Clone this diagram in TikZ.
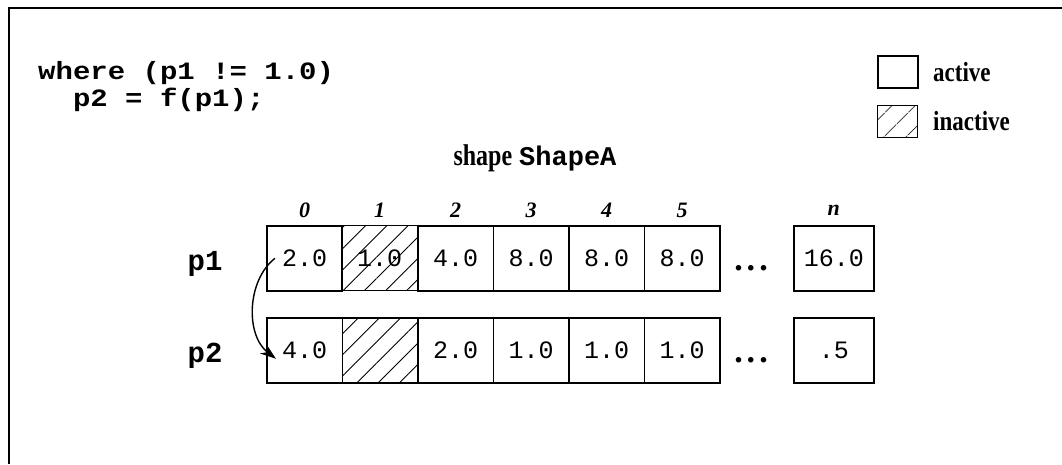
\documentclass[tikz,border=0pt]{standalone}
\usepackage{fontspec}
\setmainfont{Liberation Serif}
\setmonofont{Liberation Mono}
\usetikzlibrary{arrows.meta,patterns.meta}
\newcommand\cellfont{\ttfamily\fontsize{25}{25}\selectfont}
\newcommand\codefont{\ttfamily\bfseries\fontsize{29}{29}\selectfont}
\newcommand\idxfont{\rmfamily\bfseries\itshape\fontsize{22}{22}\selectfont}
\newcommand\lblfont{\rmfamily\bfseries\fontsize{23}{23}\selectfont}
\newcommand\bigdots{{\rmfamily\bfseries\fontsize{34}{34}\selectfont .\kern4pt.\kern4pt.}}
\newcommand\squat[1]{\scalebox{1}[0.86]{#1}}
\tikzset{
  cell/.style={draw, line width=1.6pt, minimum height=65pt, minimum width=75.5pt,
    inner sep=0pt, font=\cellfont, anchor=north west},
  hatched/.style={pattern={Lines[angle=45,distance=15pt,line width=0.9pt]}},
  legbox/.style={draw, line width=1.6pt, minimum width=40pt, minimum height=32pt,
    inner sep=0pt, anchor=north west},
  legtext/.style={font=\lblfont, anchor=west, inner sep=0pt},
  idx/.style={font=\idxfont, inner sep=0pt},
  code/.style={font=\codefont, anchor=base west, inner sep=0pt},
  rowlbl/.style={font=\codefont, anchor=base, inner sep=0pt},
  dots/.style={anchor=base, inner sep=0pt},
  arr/.style={line width=1.4pt, -{Stealth[length=16pt,width=11pt]}},
}
\begin{document}
\begin{tikzpicture}[x=1pt,y=-1pt]
\useasboundingbox (0,0) rectangle (1062,464);
% frame (cropped: only top and left edges)
\draw[line width=2.5pt] (9,464) -- (9,8) -- (1062,8);

% code
\node[code] (c1) at (38,79) {\squat{where (p1 != 1.0)}};
\node[code] (c2) at (72.8,106) {\squat{p2 = f(p1);}};

% legend
\node[legbox] (lact) at (877,55) {};
\node[legtext] (lactt) at (933,72) {\scalebox{1}[1.2]{active}};
\node[legbox, pattern={Lines[angle=45,distance=17pt,line width=1pt]}] (linact) at (877,105) {};
\node[legtext] (linactt) at (933,121) {\scalebox{1}[1.2]{inactive}};

% title
\node[anchor=base, inner sep=0pt] (title) at (535,165)
  {{\rmfamily\bfseries\fontsize{24}{24}\selectfont\scalebox{1}[1.25]{shape}}\hspace{7pt}{\ttfamily\bfseries\fontsize{27}{27}\selectfont ShapeA}};

% row labels
\node[rowlbl] (lp1) at (205,270) {p1};
\node[rowlbl] (lp2) at (205,362) {p2};

% p1 row
\node[cell] (a0) at (266,225) {2.0};
\node[cell, hatched] (a1) at (341.5,225) {1.0};
\node[cell] (a2) at (417,225) {4.0};
\node[cell] (a3) at (492.5,225) {8.0};
\node[cell] (a4) at (568,225) {8.0};
\node[cell] (a5) at (643.5,225) {8.0};
\node[cell, minimum width=80pt] (an) at (793,225) {16.0};
\node[dots] (ad) at (751,270) {\bigdots};

% p2 row
\node[cell] (b0) at (266,317) {4.0};
\node[cell, hatched] (b1) at (341.5,317) {};
\node[cell] (b2) at (417,317) {2.0};
\node[cell] (b3) at (492.5,317) {1.0};
\node[cell] (b4) at (568,317) {1.0};
\node[cell] (b5) at (643.5,317) {1.0};
\node[cell, minimum width=80pt] (bn) at (793,317) {.5};
\node[dots] (bd) at (751,362) {\bigdots};

% indices
\foreach \c/\t in {a0/0,a1/1,a2/2,a3/3,a4/4,a5/5,an/n}
  \node[idx] (i\c) at ([yshift=15pt]\c.north) {\t};

% arrow
\coordinate (s) at ([xshift=9pt]a0.west);
\coordinate (e) at ([shift={(10pt,-8.5pt)}]b0.west);
\draw[arr] (s) .. controls (247,280) and (245,335) .. (e);
\end{tikzpicture}
\end{document}
